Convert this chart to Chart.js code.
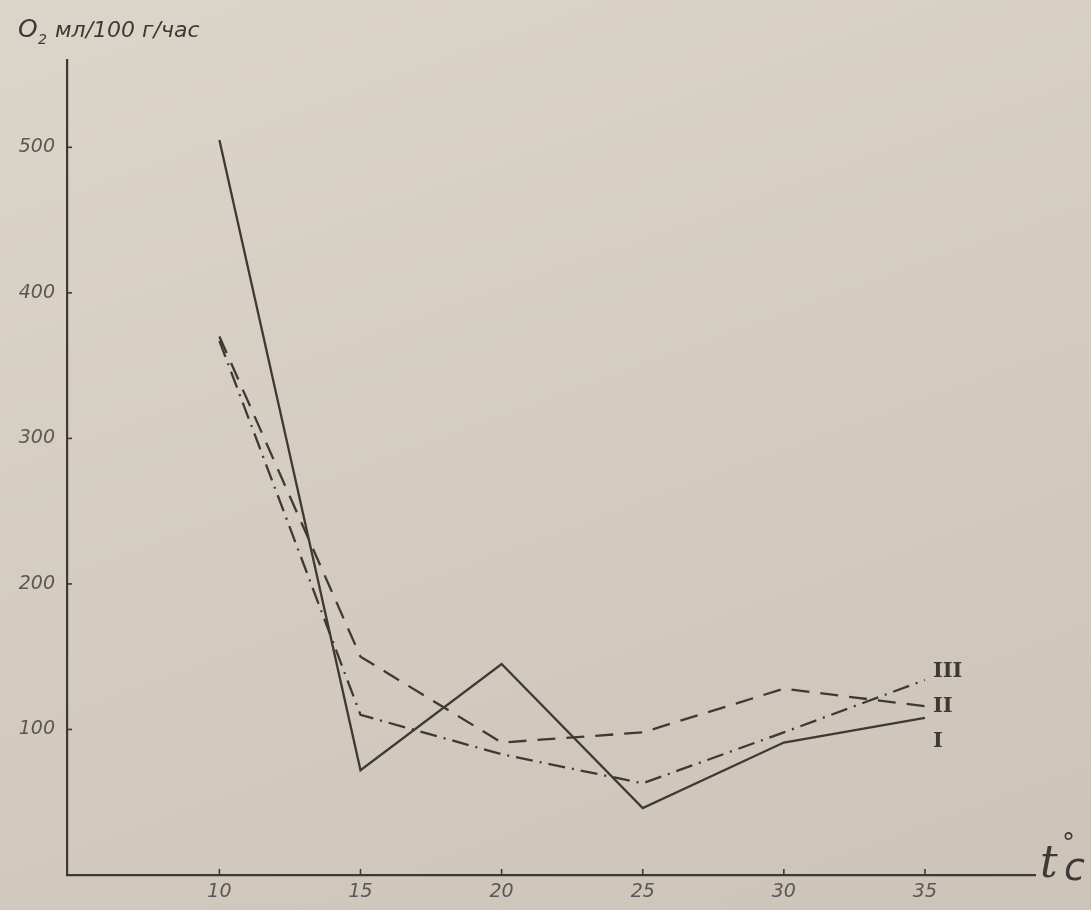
<!DOCTYPE html>
<html>
<head>
<meta charset="utf-8">
<script src="https://cdn.jsdelivr.net/npm/chart.js@4.4.1/dist/chart.umd.min.js"></script>
<style>
  html, body { margin: 0; padding: 0; }
  body {
    width: 1091px; height: 910px; overflow: hidden;
    background: linear-gradient(160deg, #dcd5c9 0%, #d4ccc0 50%, #ccc4b8 100%);
  }
  #wrap { position: relative; width: 1091px; height: 910px; }
</style>
</head>
<body>
<div id="wrap"><canvas id="o2Chart" width="1091" height="910"></canvas></div>
<script>
// temperature, °C
const temps = [10, 15, 20, 25, 30, 35];
// O2 ml / 100 g / hour
const seriesI = [505, 72, 145, 46, 91, 108];
const seriesII = [370, 150, 91, 98, 128, 116];
const seriesIII = [367, 110, 83, 63, 98, 134];
const seriesNames = ["I", "II", "III"];
const yTicks = [100, 200, 300, 400, 500];
const xTicks = [10, 15, 20, 25, 30, 35];

const ink = "#3f3936";
const pale = "#5d5752";

const toPoints = (vals) => vals.map((v, i) => ({ x: temps[i], y: v }));

const decor = {
  id: "decor",
  afterDraw(chart) {
    const { ctx, chartArea, scales } = chart;
    ctx.save();
    ctx.strokeStyle = ink;
    ctx.lineWidth = 1.6;

    // small inner tick marks
    yTicks.forEach((v) => {
      const y = scales.y.getPixelForValue(v);
      ctx.beginPath();
      ctx.moveTo(chartArea.left, y);
      ctx.lineTo(chartArea.left + 5, y);
      ctx.stroke();
    });
    xTicks.forEach((v) => {
      const x = scales.x.getPixelForValue(v);
      ctx.beginPath();
      ctx.moveTo(x, chartArea.bottom);
      ctx.lineTo(x, chartArea.bottom - 6);
      ctx.stroke();
    });

    // axis titles
    ctx.fillStyle = ink;
    ctx.textBaseline = "alphabetic";
    ctx.textAlign = "left";
    ctx.font = "italic 25px 'DejaVu Sans'";
    ctx.fillText("O", 18, 37);
    ctx.font = "italic 14px 'DejaVu Sans'";
    ctx.fillText("2", 38, 44);
    ctx.font = "italic 22px 'DejaVu Sans'";
    ctx.fillText("мл/100 г/час", 55, 37);

    ctx.font = "italic 44px 'DejaVu Serif'";
    ctx.fillText("t", 1040, 877);
    ctx.font = "26px 'DejaVu Sans'";
    ctx.fillText("°", 1062, 852);
    ctx.font = "italic 38px 'DejaVu Sans'";
    ctx.fillText("c", 1064, 880);

    // series labels at line ends
    const offsets = [24, 0, -8];
    ctx.font = "bold 21px 'DejaVu Serif'";
    ctx.textBaseline = "middle";
    chart.data.datasets.forEach((ds, i) => {
      const meta = chart.getDatasetMeta(i);
      const last = meta.data[meta.data.length - 1];
      ctx.fillText(seriesNames[i], last.x + 8, last.y + offsets[i]);
    });
    ctx.restore();
  }
};

const lineStyle = (label, data, dash) => ({
  label,
  data: toPoints(data),
  borderColor: ink,
  borderWidth: 2.3,
  borderDash: dash,
  pointRadius: 0,
  tension: 0,
  fill: false
});

new Chart(document.getElementById("o2Chart"), {
  type: "line",
  data: {
    datasets: [
      lineStyle("I", seriesI, []),
      lineStyle("II", seriesII, [18, 11]),
      lineStyle("III", seriesIII, [17, 7, 2, 7])
    ]
  },
  options: {
    responsive: false,
    animation: false,
    layout: { padding: { top: 60, right: 56, left: 0, bottom: 0 } },
    plugins: {
      legend: { display: false },
      tooltip: { enabled: false }
    },
    scales: {
      x: {
        type: "linear",
        min: 4.6,
        max: 38.9,
        afterFit: (scale) => { scale.height = 35; },
        afterBuildTicks: (scale) => { scale.ticks = xTicks.map((v) => ({ value: v })); },
        grid: { display: false, drawTicks: false },
        border: { display: true, color: ink, width: 2.2 },
        ticks: {
          color: pale,
          padding: 6,
          maxRotation: 0,
          font: { family: "DejaVu Sans", style: "italic", size: 19 }
        }
      },
      y: {
        min: 0,
        max: 560,
        afterFit: (scale) => { scale.width = 67; },
        afterBuildTicks: (scale) => { scale.ticks = yTicks.map((v) => ({ value: v })); },
        grid: { display: false, drawTicks: false },
        border: { display: true, color: ink, width: 2.2 },
        ticks: {
          color: pale,
          padding: 12,
          font: { family: "DejaVu Sans", style: "italic", size: 19 }
        }
      }
    }
  },
  plugins: [decor]
});
</script>
</body>
</html>
